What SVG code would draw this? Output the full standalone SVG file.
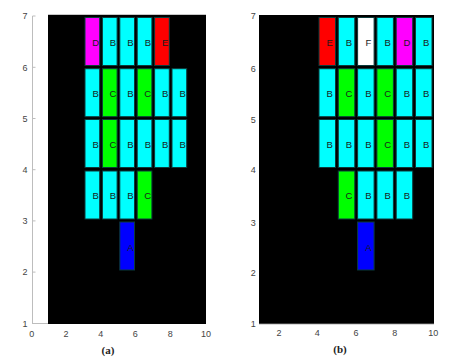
<svg xmlns="http://www.w3.org/2000/svg" width="476" height="361" viewBox="0 0 476 361">
<style>
.bg{fill:#000}
.ax{stroke:#bdbdbd;stroke-width:1;fill:none}
.tk{font-family:"Liberation Sans",Arial,sans-serif;font-size:9px;fill:#444;text-anchor:middle}
.cap{font-family:"Liberation Serif","Times New Roman",serif;font-size:11px;font-weight:bold;fill:#222;text-anchor:middle}
.br{stroke:#0b3b3b;stroke-width:1}
.lb{font-family:"Liberation Sans",Arial,sans-serif;font-size:9.5px;fill:#1a1a1a;text-anchor:middle}
.B{fill:#00ffff}.C{fill:#00ff00}.D{fill:#ff00ff}.E{fill:#ff0000}.A{fill:#0000ff}.F{fill:#ffffff}
</style>
<rect width="476" height="361" fill="#fff"/>
<!-- Plot (a) axes -->
<g id="axes-a">
<line class="ax" x1="32.5" y1="16" x2="32.5" y2="323.5"/>
<line class="ax" x1="32" y1="323.5" x2="48" y2="323.5"/>
<line class="ax" x1="32.5" y1="16" x2="35.5" y2="16"/>
<line class="ax" x1="32.5" y1="67.3" x2="35.5" y2="67.3"/>
<line class="ax" x1="32.5" y1="118.5" x2="35.5" y2="118.5"/>
<line class="ax" x1="32.5" y1="169.7" x2="35.5" y2="169.7"/>
<line class="ax" x1="32.5" y1="220.9" x2="35.5" y2="220.9"/>
<line class="ax" x1="32.5" y1="272.1" x2="35.5" y2="272.1"/>
<rect class="bg" x="48" y="14.5" width="158" height="309.5"/>
<line x1="48" y1="14.5" x2="206" y2="14.5" stroke="#c8c8c8" stroke-width="1"/>
<text class="tk" x="25" y="19">7</text>
<text class="tk" x="25" y="70.5">6</text>
<text class="tk" x="25" y="121.5">5</text>
<text class="tk" x="25" y="172.5">4</text>
<text class="tk" x="25" y="224">3</text>
<text class="tk" x="25" y="275">2</text>
<text class="tk" x="25" y="326.5">1</text>
<text class="tk" x="31.7" y="336.5">0</text>
<text class="tk" x="66" y="336.5">2</text>
<text class="tk" x="100.7" y="336.5">4</text>
<text class="tk" x="135.3" y="336.5">6</text>
<text class="tk" x="170.3" y="336.5">8</text>
<text class="tk" x="206" y="336.5">10</text>
<text class="cap" x="108" y="354">(a)</text>
</g>
<!-- Plot (a) bricks -->
<g id="a-r1-1"><rect class="br D" x="85" y="17.5" width="14.7" height="48"/><text class="lb" x="95.6" y="45.5">D</text></g>
<g id="a-r1-2"><rect class="br B" x="102.4" y="17.5" width="14.7" height="48"/><text class="lb" x="113" y="45.5">B</text></g>
<g id="a-r1-3"><rect class="br B" x="119.8" y="17.5" width="14.7" height="48"/><text class="lb" x="130.4" y="45.5">B</text></g>
<g id="a-r1-4"><rect class="br B" x="137.2" y="17.5" width="14.7" height="48"/><text class="lb" x="147.8" y="45.5">B</text></g>
<g id="a-r1-5"><rect class="br E" x="154.6" y="17.5" width="14.7" height="48"/><text class="lb" x="165.2" y="45.5">E</text></g>

<g id="a-r2-1"><rect class="br B" x="85" y="68.7" width="14.7" height="48"/><text class="lb" x="95.6" y="96.7">B</text></g>
<g id="a-r2-2"><rect class="br C" x="102.4" y="68.7" width="14.7" height="48"/><text class="lb" x="113" y="96.7">C</text></g>
<g id="a-r2-3"><rect class="br B" x="119.8" y="68.7" width="14.7" height="48"/><text class="lb" x="130.4" y="96.7">B</text></g>
<g id="a-r2-4"><rect class="br C" x="137.2" y="68.7" width="14.7" height="48"/><text class="lb" x="147.8" y="96.7">C</text></g>
<g id="a-r2-5"><rect class="br B" x="154.6" y="68.7" width="14.7" height="48"/><text class="lb" x="165.2" y="96.7">B</text></g>
<g id="a-r2-6"><rect class="br B" x="172" y="68.7" width="14.7" height="48"/><text class="lb" x="182.6" y="96.7">B</text></g>

<g id="a-r3-1"><rect class="br B" x="85" y="119.5" width="14.7" height="48"/><text class="lb" x="95.6" y="147.5">B</text></g>
<g id="a-r3-2"><rect class="br C" x="102.4" y="119.5" width="14.7" height="48"/><text class="lb" x="113" y="147.5">C</text></g>
<g id="a-r3-3"><rect class="br B" x="119.8" y="119.5" width="14.7" height="48"/><text class="lb" x="130.4" y="147.5">B</text></g>
<g id="a-r3-4"><rect class="br B" x="137.2" y="119.5" width="14.7" height="48"/><text class="lb" x="147.8" y="147.5">B</text></g>
<g id="a-r3-5"><rect class="br B" x="154.6" y="119.5" width="14.7" height="48"/><text class="lb" x="165.2" y="147.5">B</text></g>
<g id="a-r3-6"><rect class="br B" x="172" y="119.5" width="14.7" height="48"/><text class="lb" x="182.6" y="147.5">B</text></g>

<g id="a-r4-1"><rect class="br B" x="85" y="171" width="14.7" height="48"/><text class="lb" x="95.6" y="199">B</text></g>
<g id="a-r4-2"><rect class="br B" x="102.4" y="171" width="14.7" height="48"/><text class="lb" x="113" y="199">B</text></g>
<g id="a-r4-3"><rect class="br B" x="119.8" y="171" width="14.7" height="48"/><text class="lb" x="130.4" y="199">B</text></g>
<g id="a-r4-4"><rect class="br C" x="137.2" y="171" width="14.7" height="48"/><text class="lb" x="147.8" y="199">C</text></g>

<g id="a-r5-1"><rect class="br A" x="119.8" y="222" width="14.7" height="48"/><text class="lb" x="130.4" y="250.5">A</text></g>

<!-- Plot (b) axes -->
<g id="axes-b">
<rect class="bg" x="259" y="15" width="175" height="309"/>
<line x1="259" y1="324.2" x2="434" y2="324.2" stroke="#c8c8c8" stroke-width="1"/>
<text class="tk" x="253.3" y="19">7</text>
<text class="tk" x="253.3" y="71.5">6</text>
<text class="tk" x="253.3" y="122.5">5</text>
<text class="tk" x="253.3" y="173.3">4</text>
<text class="tk" x="253.3" y="225.6">3</text>
<text class="tk" x="253.3" y="276">2</text>
<text class="tk" x="253.3" y="326.6">1</text>
<text class="tk" x="279" y="336">2</text>
<text class="tk" x="317.3" y="336">4</text>
<text class="tk" x="356" y="336">6</text>
<text class="tk" x="394.7" y="336">8</text>
<text class="tk" x="433.3" y="336">10</text>
<text class="cap" x="340" y="352.5">(b)</text>
</g>
<!-- Plot (b) bricks -->
<g id="b-r1-1"><rect class="br E" x="319" y="17.5" width="16.5" height="48"/><text class="lb" x="329.7" y="45.5">E</text></g>
<g id="b-r1-2"><rect class="br B" x="338.3" y="17.5" width="16.5" height="48"/><text class="lb" x="349" y="45.5">B</text></g>
<g id="b-r1-3"><rect class="br F" x="357.6" y="17.5" width="16.5" height="48"/><text class="lb" x="368.3" y="45.5">F</text></g>
<g id="b-r1-4"><rect class="br B" x="376.9" y="17.5" width="16.5" height="48"/><text class="lb" x="387.6" y="45.5">B</text></g>
<g id="b-r1-5"><rect class="br D" x="396.2" y="17.5" width="16.5" height="48"/><text class="lb" x="406.9" y="45.5">D</text></g>
<g id="b-r1-6"><rect class="br B" x="415.5" y="17.5" width="16.5" height="48"/><text class="lb" x="426.2" y="45.5">B</text></g>

<g id="b-r2-1"><rect class="br B" x="319" y="68.7" width="16.5" height="48"/><text class="lb" x="329.7" y="96.7">B</text></g>
<g id="b-r2-2"><rect class="br C" x="338.3" y="68.7" width="16.5" height="48"/><text class="lb" x="349" y="96.7">C</text></g>
<g id="b-r2-3"><rect class="br B" x="357.6" y="68.7" width="16.5" height="48"/><text class="lb" x="368.3" y="96.7">B</text></g>
<g id="b-r2-4"><rect class="br C" x="376.9" y="68.7" width="16.5" height="48"/><text class="lb" x="387.6" y="96.7">C</text></g>
<g id="b-r2-5"><rect class="br B" x="396.2" y="68.7" width="16.5" height="48"/><text class="lb" x="406.9" y="96.7">B</text></g>
<g id="b-r2-6"><rect class="br B" x="415.5" y="68.7" width="16.5" height="48"/><text class="lb" x="426.2" y="96.7">B</text></g>

<g id="b-r3-1"><rect class="br B" x="319" y="119.5" width="16.5" height="48"/><text class="lb" x="329.7" y="147.5">B</text></g>
<g id="b-r3-2"><rect class="br B" x="338.3" y="119.5" width="16.5" height="48"/><text class="lb" x="349" y="147.5">B</text></g>
<g id="b-r3-3"><rect class="br B" x="357.6" y="119.5" width="16.5" height="48"/><text class="lb" x="368.3" y="147.5">B</text></g>
<g id="b-r3-4"><rect class="br C" x="376.9" y="119.5" width="16.5" height="48"/><text class="lb" x="387.6" y="147.5">C</text></g>
<g id="b-r3-5"><rect class="br B" x="396.2" y="119.5" width="16.5" height="48"/><text class="lb" x="406.9" y="147.5">B</text></g>
<g id="b-r3-6"><rect class="br B" x="415.5" y="119.5" width="16.5" height="48"/><text class="lb" x="426.2" y="147.5">B</text></g>

<g id="b-r4-1"><rect class="br C" x="338.3" y="171" width="16.5" height="48"/><text class="lb" x="349" y="199">C</text></g>
<g id="b-r4-2"><rect class="br B" x="357.6" y="171" width="16.5" height="48"/><text class="lb" x="368.3" y="199">B</text></g>
<g id="b-r4-3"><rect class="br B" x="376.9" y="171" width="16.5" height="48"/><text class="lb" x="387.6" y="199">B</text></g>
<g id="b-r4-4"><rect class="br B" x="396.2" y="171" width="16.5" height="48"/><text class="lb" x="406.9" y="199">B</text></g>

<g id="b-r5-1"><rect class="br A" x="357.6" y="222" width="16.5" height="48"/><text class="lb" x="368.3" y="250.5">A</text></g>
<g id="connectors"></g>
</svg>
